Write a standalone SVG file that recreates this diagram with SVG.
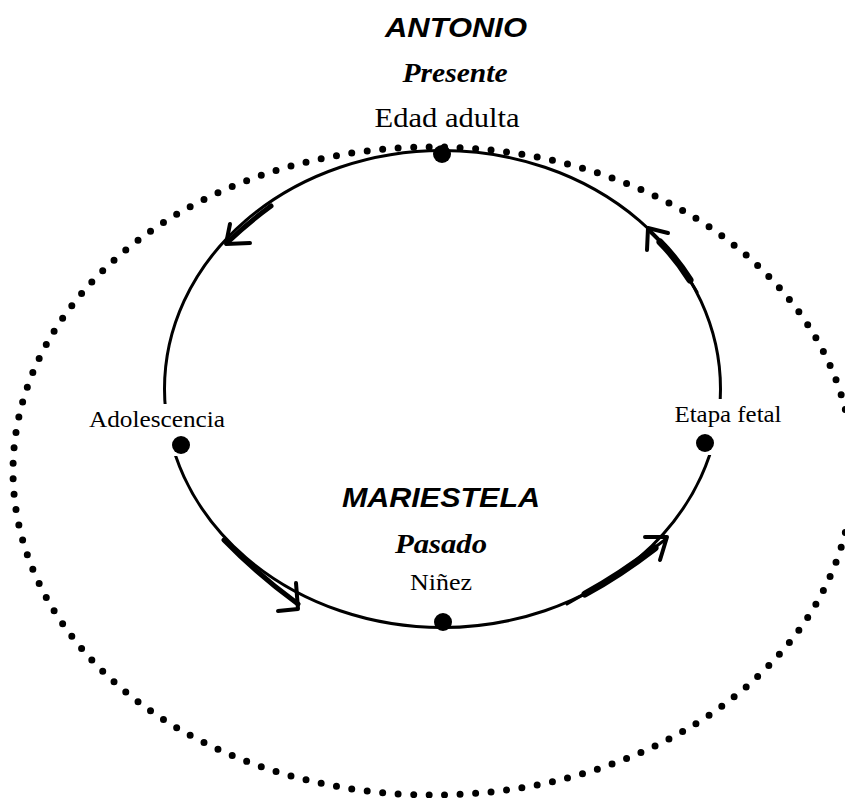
<svg xmlns="http://www.w3.org/2000/svg" width="845" height="798" viewBox="0 0 845 798">
<style>
.title{font-family:"Liberation Sans",Arial,sans-serif;font-weight:bold;font-style:italic;font-size:28px;fill:#000}
.script{font-family:"Liberation Serif","Times New Roman",serif;font-weight:bold;font-style:italic;font-size:27px;fill:#000}
.lbl{font-family:"Liberation Serif","Times New Roman",serif;font-size:24px;fill:#000}
.big{font-size:28px}
.dot{fill:#000}
.shaft{fill:none;stroke:#000;stroke-linecap:round}
.head{fill:none;stroke:#000;stroke-width:4;stroke-linecap:round;stroke-linejoin:round}
</style>
<rect width="845" height="798" fill="#fff"/>
<g id="outer-ring">
<ellipse cx="433" cy="471" rx="420" ry="324" fill="none" stroke="#000" stroke-width="7" stroke-linecap="round" stroke-dasharray="0 1" pathLength="151"/>
</g>
<g id="cycle">
<ellipse cx="442.5" cy="389" rx="278" ry="238.5" fill="none" stroke="#000" stroke-width="3"/>
<rect x="84" y="404" width="148" height="52" fill="#fff"/>
<rect x="668" y="399" width="118" height="56" fill="#fff"/>
</g>
<g id="titles">
<text class="title" x="456" y="37" text-anchor="middle" textLength="142" lengthAdjust="spacingAndGlyphs">ANTONIO</text>
<text class="script" x="455" y="82" text-anchor="middle" textLength="105" lengthAdjust="spacingAndGlyphs">Presente</text>
<text class="title" x="441" y="507" text-anchor="middle" textLength="198" lengthAdjust="spacingAndGlyphs">MARIESTELA</text>
<text class="script" x="441" y="553" text-anchor="middle" textLength="92" lengthAdjust="spacingAndGlyphs">Pasado</text>
</g>
<g id="node-edad-adulta">
<text class="lbl big" x="447" y="127" text-anchor="middle" textLength="145" lengthAdjust="spacingAndGlyphs">Edad adulta</text>
<circle class="dot" cx="442" cy="154" r="9"/>
</g>
<g id="node-adolescencia">
<text class="lbl" x="157" y="427" text-anchor="middle" textLength="136" lengthAdjust="spacingAndGlyphs">Adolescencia</text>
<circle class="dot" cx="181" cy="445" r="9"/>
</g>
<g id="node-ninez">
<text class="lbl" x="441" y="590" text-anchor="middle" textLength="62" lengthAdjust="spacingAndGlyphs">Niñez</text>
<circle class="dot" cx="443" cy="622" r="9"/>
</g>
<g id="node-etapa-fetal">
<text class="lbl" x="728" y="422" text-anchor="middle" textLength="107" lengthAdjust="spacingAndGlyphs">Etapa fetal</text>
<circle class="dot" cx="705" cy="443" r="9"/>
</g>
<g id="connectors">
<path class="shaft" stroke-width="5" d="M271,206 Q249,222 229,241"/>
<polyline class="head" points="230,224 226,244 250,243"/>
<path class="shaft" stroke-width="3" d="M697,292 Q676,256 650,232"/>
<path class="shaft" stroke-width="7" d="M690,280 Q676,258 660,242"/>
<polyline class="head" points="668,233 648,228 647,250"/>
<path class="shaft" stroke-width="5" d="M224,540 Q258,575 298,604"/>
<polyline class="head" points="296,583 298,609 278,611"/>
<path class="shaft" stroke-width="3" d="M567,604 Q620,575 666,539"/>
<path class="shaft" stroke-width="7" d="M585,594 Q620,575 655,548"/>
<polyline class="head" points="645,537 667,537 660,560"/>
</g>
</svg>
